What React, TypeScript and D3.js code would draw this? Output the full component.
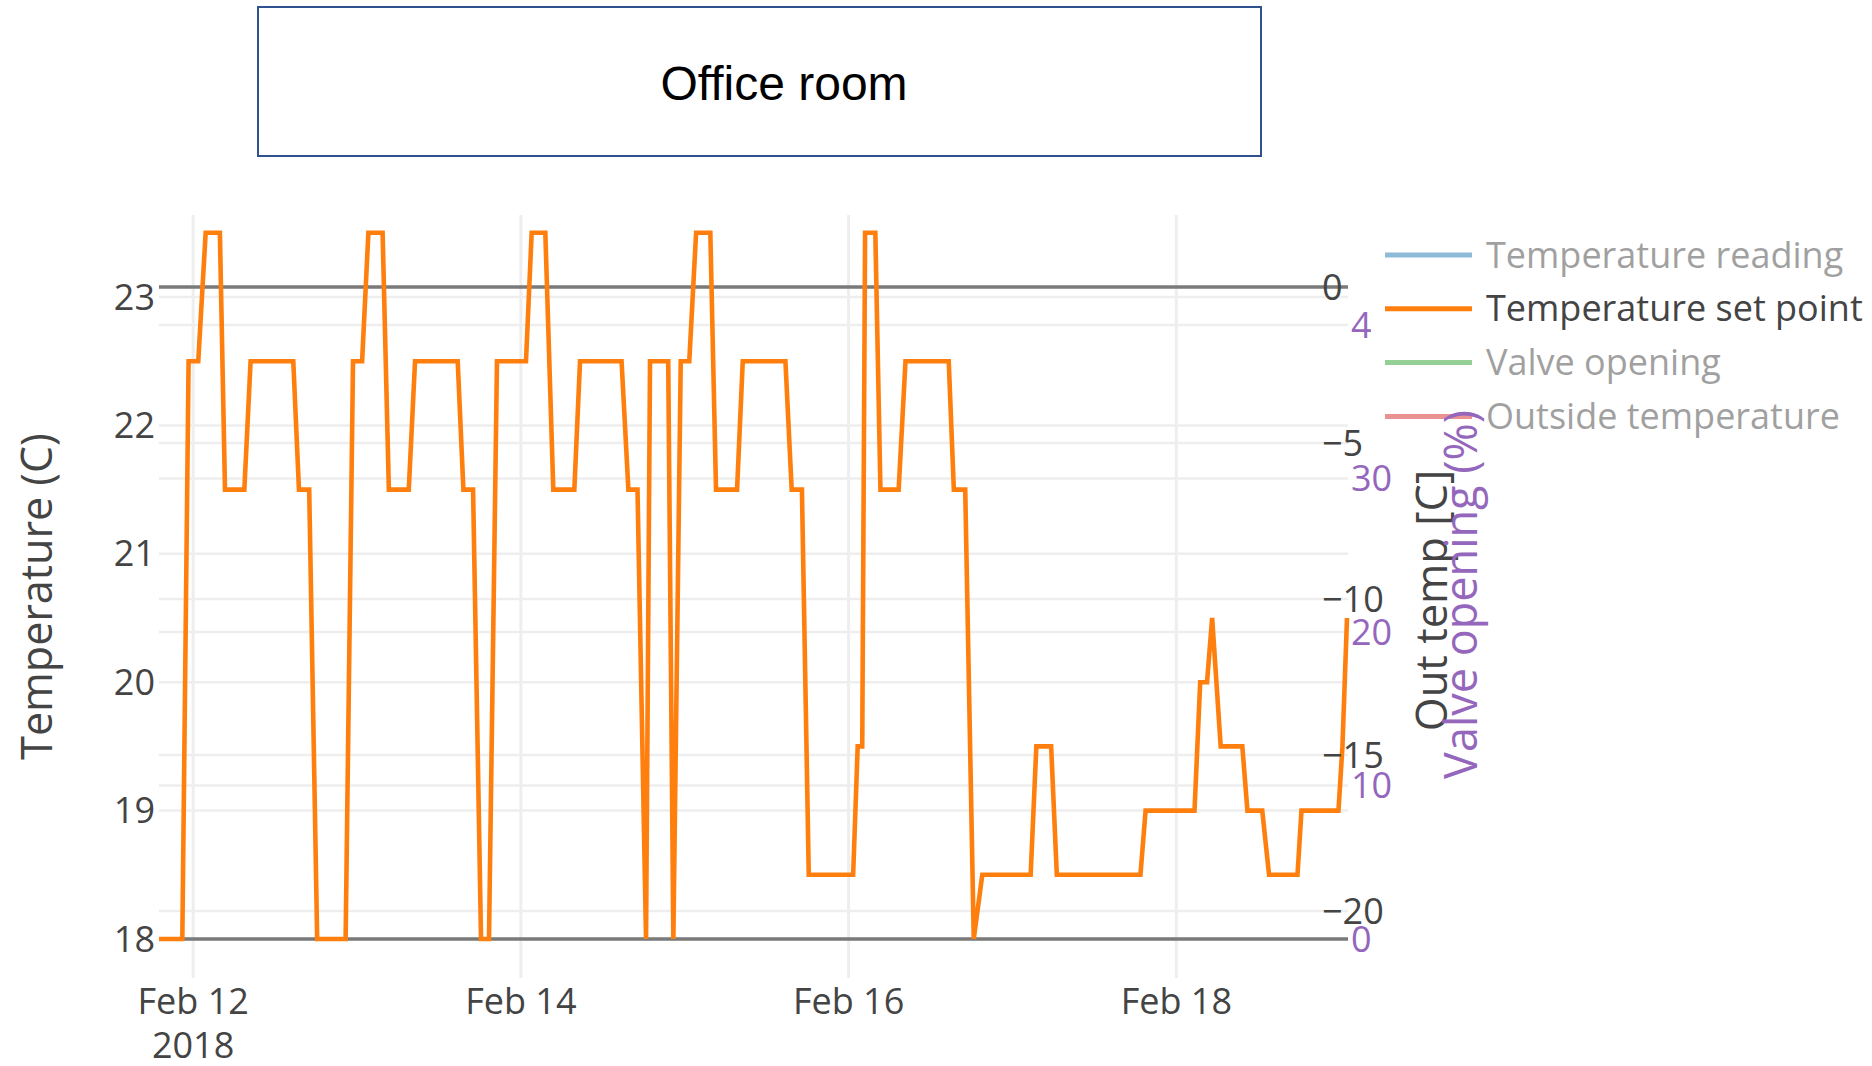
import * as d3 from "d3";

// set point series (only visible trace); others are legend-only
const setPointTimes = [
  "2018-02-11 19:00", "2018-02-11 22:25", "2018-02-11 23:20", "2018-02-12 00:45",
  "2018-02-12 01:50", "2018-02-12 03:55", "2018-02-12 04:40", "2018-02-12 07:30",
  "2018-02-12 08:25", "2018-02-12 14:40", "2018-02-12 15:30", "2018-02-12 17:00",
  "2018-02-12 18:10", "2018-02-12 22:20", "2018-02-12 23:25", "2018-02-13 00:45",
  "2018-02-13 01:40", "2018-02-13 03:45", "2018-02-13 04:40", "2018-02-13 07:35",
  "2018-02-13 08:30", "2018-02-13 14:45", "2018-02-13 15:35", "2018-02-13 17:00",
  "2018-02-13 18:10", "2018-02-13 19:20", "2018-02-13 20:30", "2018-02-14 00:45",
  "2018-02-14 01:35", "2018-02-14 03:35", "2018-02-14 04:45", "2018-02-14 07:50",
  "2018-02-14 08:40", "2018-02-14 14:45", "2018-02-14 15:45", "2018-02-14 17:05",
  "2018-02-14 18:20", "2018-02-14 18:55", "2018-02-14 21:35", "2018-02-14 22:20",
  "2018-02-14 23:25", "2018-02-15 00:40", "2018-02-15 01:40", "2018-02-15 03:45",
  "2018-02-15 04:35", "2018-02-15 07:40", "2018-02-15 08:30", "2018-02-15 14:45",
  "2018-02-15 15:40", "2018-02-15 17:10", "2018-02-15 18:10", "2018-02-16 00:40",
  "2018-02-16 01:20", "2018-02-16 02:00", "2018-02-16 02:25", "2018-02-16 03:55",
  "2018-02-16 04:40", "2018-02-16 07:20", "2018-02-16 08:20", "2018-02-16 14:40",
  "2018-02-16 15:25", "2018-02-16 17:05", "2018-02-16 18:20", "2018-02-16 19:35",
  "2018-02-17 02:40", "2018-02-17 03:30", "2018-02-17 05:40", "2018-02-17 06:30",
  "2018-02-17 18:45", "2018-02-17 19:30", "2018-02-18 02:40", "2018-02-18 03:30",
  "2018-02-18 04:30", "2018-02-18 05:15", "2018-02-18 06:30", "2018-02-18 09:40",
  "2018-02-18 10:25", "2018-02-18 12:35", "2018-02-18 13:35", "2018-02-18 17:45",
  "2018-02-18 18:20", "2018-02-18 23:45", "2018-02-19 00:20", "2018-02-19 01:00",
];
const setPointValues = [
  18, 18, 22.5, 22.5, 23.5, 23.5, 21.5, 21.5,
  22.5, 22.5, 21.5, 21.5, 18, 18, 22.5, 22.5,
  23.5, 23.5, 21.5, 21.5, 22.5, 22.5, 21.5, 21.5,
  18, 18, 22.5, 22.5, 23.5, 23.5, 21.5, 21.5,
  22.5, 22.5, 21.5, 21.5, 18, 22.5, 22.5, 18,
  22.5, 22.5, 23.5, 23.5, 21.5, 21.5, 22.5, 22.5,
  21.5, 21.5, 18.5, 18.5, 19.5, 19.5, 23.5, 23.5,
  21.5, 21.5, 22.5, 22.5, 21.5, 21.5, 18, 18.5,
  18.5, 19.5, 19.5, 18.5, 18.5, 19, 19, 20,
  20, 20.5, 19.5, 19.5, 19, 19, 18.5, 18.5,
  19, 19, 19.5, 20.5,
];

const tempTicks = [18, 19, 20, 21, 22, 23];
const outTempTicks = [0, -5, -10, -15, -20];
const valveTicks = [0, 10, 20, 30, 40];
const dateTicks = ["2018-02-12", "2018-02-14", "2018-02-16", "2018-02-18"];
const dateTickLabels = ["Feb 12", "Feb 14", "Feb 16", "Feb 18"];

const legendNames = ["Temperature reading", "Temperature set point", "Valve opening", "Outside temperature"];
const legendColors = ["#1f77b4", "#ff7f0e", "#2ca02c", "#d62728"];
const legendVisible = [false, true, false, false];

const W = 1872;
const H = 1066;
const plot = { left: 159, right: 1347, top: 215, bottom: 978, gridRight: 1348 };
const FONT = "'Open Sans', sans-serif";

export default function App() {
  const parse = d3.timeParse("%Y-%m-%d %H:%M");
  const parseDay = d3.timeParse("%Y-%m-%d");
  const data = setPointTimes.map((t, i) => ({ t: parse(t) as Date, v: setPointValues[i] }));

  const x = d3
    .scaleTime()
    .domain(d3.extent(data, (d) => d.t) as [Date, Date])
    .range([plot.left, plot.right]);
  const yTemp = d3.scaleLinear().domain([18, 23]).range([939, 297]);
  const yOut = d3.scaleLinear().domain([0, -20]).range([287, 911]);
  const yValve = d3.scaleLinear().domain([0, 40]).range([939, 325]);

  const line = d3
    .line<{ t: Date; v: number }>()
    .x((d) => x(d.t))
    .y((d) => yTemp(d.v));

  const fmt = (v: number) => (v < 0 ? "\u2212" + Math.abs(v) : String(v));
  const midY = (plot.top + plot.bottom) / 2;

  return (
    <svg width={W} height={H} style={{ position: "absolute", left: 0, top: 0, background: "#fff" }}>
      {/* title box */}
      <rect x={258} y={7} width={1003} height={149} fill="#fff" stroke="#2f528f" strokeWidth={2} />
      <text x={784} y={100} textAnchor="middle" fontFamily="'Liberation Sans', Arial, sans-serif" fontSize={48} fill="#000">
        Office room
      </text>

      {/* gridlines */}
      <g stroke="#eeeeee" strokeWidth={2.5}>
        {dateTicks.map((d) => (
          <line key={d} x1={x(parseDay(d) as Date)} x2={x(parseDay(d) as Date)} y1={plot.top} y2={plot.bottom} strokeWidth={3} />
        ))}
        {tempTicks.map((t) => (
          <line key={"t" + t} x1={plot.left} x2={plot.gridRight} y1={yTemp(t)} y2={yTemp(t)} />
        ))}
        {outTempTicks.map((t) => (
          <line key={"o" + t} x1={plot.left} x2={plot.gridRight} y1={yOut(t)} y2={yOut(t)} />
        ))}
        {valveTicks.map((t) => (
          <line key={"v" + t} x1={plot.left} x2={plot.gridRight} y1={yValve(t)} y2={yValve(t)} />
        ))}
      </g>
      {/* zero lines */}
      <g stroke="#7a7a7a" strokeWidth={3.5}>
        <line x1={plot.left} x2={plot.gridRight} y1={yOut(0)} y2={yOut(0)} />
        <line x1={plot.left} x2={plot.gridRight} y1={yValve(0)} y2={yValve(0)} />
      </g>

      {/* set point trace */}
      <path d={line(data) ?? ""} fill="none" stroke="#ff7f0e" strokeWidth={4.6} strokeLinejoin="miter" />

      {/* tick labels */}
      <g fontFamily={FONT} fontSize={36} fill="#444">
        {tempTicks.map((t) => (
          <text key={t} x={155} y={yTemp(t)} dy="0.35em" textAnchor="end">
            {t}
          </text>
        ))}
        {dateTicks.map((d, i) => (
          <text key={d} x={x(parseDay(d) as Date)} y={1014} textAnchor="middle">
            {dateTickLabels[i]}
            {i === 0 && (
              <tspan x={x(parseDay(d) as Date)} dy={44}>
                2018
              </tspan>
            )}
          </text>
        ))}
        {outTempTicks.map((t) => (
          <text key={t} x={1322} y={yOut(t)} dy="0.35em" textAnchor="start">
            {fmt(t)}
          </text>
        ))}
        {valveTicks.map((t) => (
          <text key={t} x={1351} y={yValve(t)} dy="0.35em" textAnchor="start" fill="#9467bd">
            {t}
          </text>
        ))}
      </g>

      {/* legend */}
      <g fontFamily={FONT} fontSize={36}>
        <rect x={1371} y={228} width={W - 1371} height={216} fill="#fff" />
        {legendNames.map((name, i) => {
          const ly = 255 + i * 53.8;
          return (
            <g key={name} opacity={legendVisible[i] ? 1 : 0.5}>
              <line x1={1385} x2={1472} y1={ly} y2={ly} stroke={legendColors[i]} strokeWidth={5} />
              <text x={1486} y={ly} dy="0.35em" fill="#444">
                {name}
              </text>
            </g>
          );
        })}
      </g>

      {/* axis titles */}
      <g fontFamily={FONT} textAnchor="middle">
        <text transform={`translate(52,${midY}) rotate(-90)`} fill="#444" fontSize={43}>
          Temperature (C)
        </text>
        <text transform={`translate(1447,${midY + 4}) rotate(-90)`} fill="#444" fontSize={43.5}>
          Out temp [C]
        </text>
        <text transform={`translate(1477,${midY - 2}) rotate(-90)`} fill="#9467bd" fontSize={45}>
          Valve opening (%)
        </text>
      </g>
    </svg>
  );
}
